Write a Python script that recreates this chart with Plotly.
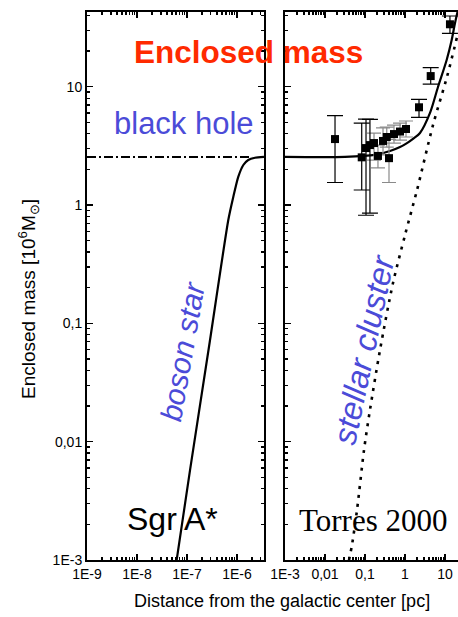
import math
import plotly.graph_objects as go

# ---------------- data ----------------
# left panel: black hole (dash-dot) and boson star (solid)
bh_r = [1e-9, 2.0e-6]
bh_m = [2.55, 2.55]

boson_r = [6.22e-8, 1.15e-7, 2.79e-7, 6.70e-7, 8.43e-7, 1.06e-6, 1.34e-6, 1.68e-6, 2.29e-6, 3.47e-6]
boson_m = [0.001, 0.00575, 0.0656, 0.747, 1.17, 1.73, 2.18, 2.40, 2.51, 2.55]

# right panel: model fit (solid) and stellar cluster (dotted)
fit_r = [0.001, 0.0316, 0.178, 0.422, 0.75, 1.12, 1.68, 2.37, 4.22, 6.68, 11.0, 14.7, 17.8, 21.1]
fit_m = [2.55, 2.55, 2.65, 2.86, 3.09, 3.34, 3.68, 4.06, 6.0, 9.94, 16.8, 24.8, 34.6, 44.5]

cluster_r = [0.0398, 0.0473, 0.0631, 0.0944, 0.133, 0.237, 0.501, 1.0, 2.0, 5.01, 11.2, 20.0]
cluster_m = [0.001, 0.00134, 0.00264, 0.00849, 0.0185, 0.0594, 0.219, 0.557, 1.34, 4.74, 12.1, 26.3]

# Torres 2000 data points (black error bars)
obs_r = [0.0178, 0.0828, 0.106, 0.133, 2.24, 4.39, 13.3]
obs_m = [3.61, 2.53, 3.03, 3.21, 6.70, 12.3, 33.7]
obs_hi = [5.69, 4.93, 5.33, 5.30, 7.82, 14.5, 39.6]
obs_lo = [1.55, 1.34, 0.82, 0.855, 5.51, 10.5, 28.2]

# data points with grey error bars
obs2_r = [0.168, 0.211, 0.282, 0.398, 0.35, 0.531, 0.75, 1.06]
obs2_m = [3.34, 2.60, 3.48, 2.49, 3.76, 3.98, 4.18, 4.39]
obs2_hi = [4.06, 3.21, 4.48, 3.59, 4.56, 4.74, 4.93, 5.13]
obs2_lo = [2.40, 2.06, 2.65, 1.55, 3.09, 3.34, 3.54, 3.76]

y_tickvals = [1e-3, 1e-2, 0.1, 1, 10]
y_ticktext = ["1E-3", "0,01", "0,1", "1", "10"]
xl_tickvals = [1e-9, 1e-8, 1e-7, 1e-6]
xl_ticktext = ["1E-9", "1E-8", "1E-7", "1E-6"]
xr_tickvals = [1e-3, 1e-2, 0.1, 1, 10]
xr_ticktext = ["1E-3", "0,01", "0,1", "1", "10"]

# ---------------- figure ----------------
W, H = 458, 617
FONT = "Arial, Liberation Sans, sans-serif"


def minor_vals(lo, hi):
    vals = []
    for e in range(lo, hi + 1):
        for k in range(2, 10):
            vals.append(k * 10.0 ** e)
    return vals


fig = go.Figure()

fig.add_trace(go.Scatter(x=bh_r, y=bh_m, mode="lines", xaxis="x", yaxis="y",
                         line=dict(color="black", width=2, dash="9px,3px,2px,3px"),
                         showlegend=False, hoverinfo="skip"))
fig.add_trace(go.Scatter(x=boson_r, y=boson_m, mode="lines", xaxis="x", yaxis="y",
                         line=dict(color="black", width=2.2, shape="spline", smoothing=0.6),
                         showlegend=False, hoverinfo="skip"))

fig.add_trace(go.Scatter(x=cluster_r, y=cluster_m, mode="lines", xaxis="x2", yaxis="y2",
                         line=dict(color="black", width=2.6, dash="3px,6px", shape="spline", smoothing=0.8),
                         showlegend=False, hoverinfo="skip"))
fig.add_trace(go.Scatter(x=fit_r, y=fit_m, mode="lines", xaxis="x2", yaxis="y2",
                         line=dict(color="black", width=2.2, shape="spline", smoothing=0.8),
                         showlegend=False, hoverinfo="skip"))

fig.add_trace(go.Scatter(
    x=obs2_r, y=obs2_m, mode="markers", xaxis="x2", yaxis="y2",
    marker=dict(symbol="square", size=8, color="black"),
    error_y=dict(type="data", symmetric=False,
                 array=[h - m for h, m in zip(obs2_hi, obs2_m)],
                 arrayminus=[m - l for m, l in zip(obs2_m, obs2_lo)],
                 color="#8a8a8a", thickness=1.2, width=7),
    showlegend=False, hoverinfo="skip"))
fig.add_trace(go.Scatter(
    x=obs_r, y=obs_m, mode="markers", xaxis="x2", yaxis="y2",
    marker=dict(symbol="square", size=8, color="black"),
    error_y=dict(type="data", symmetric=False,
                 array=[h - m for h, m in zip(obs_hi, obs_m)],
                 arrayminus=[m - l for m, l in zip(obs_m, obs_lo)],
                 color="black", thickness=1.2, width=8),
    showlegend=False, hoverinfo="skip"))

# plot-area geometry (pixels)
top_px, bot_px = 12, 560
ydom = [1 - bot_px / H, 1 - top_px / H]
y_top_log = 1 + (86.7 - top_px) / 118.3

common = dict(type="log", showgrid=False, zeroline=False, showline=True, automargin=False,
              linecolor="black", linewidth=2, ticks="inside", ticklen=6,
              tickwidth=1.3, tickcolor="black",
              tickfont=dict(family=FONT, size=14, color="black"))

fig.update_layout(
    width=W, height=H, autosize=False,
    margin=dict(l=0, r=0, t=0, b=0, pad=0, autoexpand=False),
    paper_bgcolor="white", plot_bgcolor="white",
    xaxis=dict(**common, domain=[87 / W, 264 / W], anchor="y",
               range=[-9, math.log10(3.47e-6)], mirror="allticks",
               tickmode="array", tickvals=xl_tickvals, ticktext=xl_ticktext,
               minor=dict(tickmode="array", tickvals=minor_vals(-9, -6), ticks="inside",
                          ticklen=3, tickcolor="black", showgrid=False)),
    yaxis=dict(**common, domain=ydom, anchor="x",
               range=[-3, y_top_log], mirror="allticks",
               tickmode="array", tickvals=y_tickvals, ticktext=y_ticktext,
               minor=dict(tickmode="array", tickvals=minor_vals(-3, 1), ticks="inside",
                          ticklen=3, tickcolor="black", showgrid=False)),
    xaxis2=dict(**common, domain=[285 / W, 1.0], anchor="y2",
                range=[-3, -3 + (W - 285) / 40], mirror="allticks",
                tickmode="array", tickvals=xr_tickvals, ticktext=xr_ticktext,
                minor=dict(tickmode="array", tickvals=minor_vals(-3, 1), ticks="inside",
                           ticklen=3, tickcolor="black", showgrid=False)),
    yaxis2=dict(**common, domain=ydom, anchor="x2",
                range=[-3, y_top_log], mirror=False, showticklabels=False,
                tickmode="array", tickvals=y_tickvals,
                minor=dict(tickmode="array", tickvals=minor_vals(-3, 1), ticks="inside",
                           ticklen=3, tickcolor="black", showgrid=False)),
)


def ann(text, px, py, size, color, angle=0, family=FONT):
    fig.add_annotation(text=text, x=px / W, y=1 - py / H, xref="paper", yref="paper",
                       showarrow=False, xanchor="center", yanchor="middle",
                       textangle=angle, font=dict(family=family, size=size, color=color))


BLUE = "#4b4bd8"
ann("<b>Enclosed mass</b>", 248, 52, 31.5, "#ff2a00")
ann("black hole", 184, 123, 31, BLUE)
ann("<i>boson star</i>", 182, 352, 30, BLUE, angle=-80)
ann("<i>stellar cluster</i>", 364, 350, 32.5, BLUE, angle=-78)
ann("Sgr A*", 172, 519, 32, "black")
ann("Torres 2000", 373, 520, 31, "black", family="Liberation Serif, Times New Roman, serif")
ann("Enclosed mass [10<sup>6</sup>M<sub>⊙</sub>]", 29, 299, 19, "black", angle=-90)
ann("Distance from the galactic center [pc]", 282, 601, 18, "black")

fig.write_html("out.html",
               config={"displayModeBar": False, "staticPlot": True},
               post_script="document.body.style.margin='0';document.body.style.overflow='hidden';")
